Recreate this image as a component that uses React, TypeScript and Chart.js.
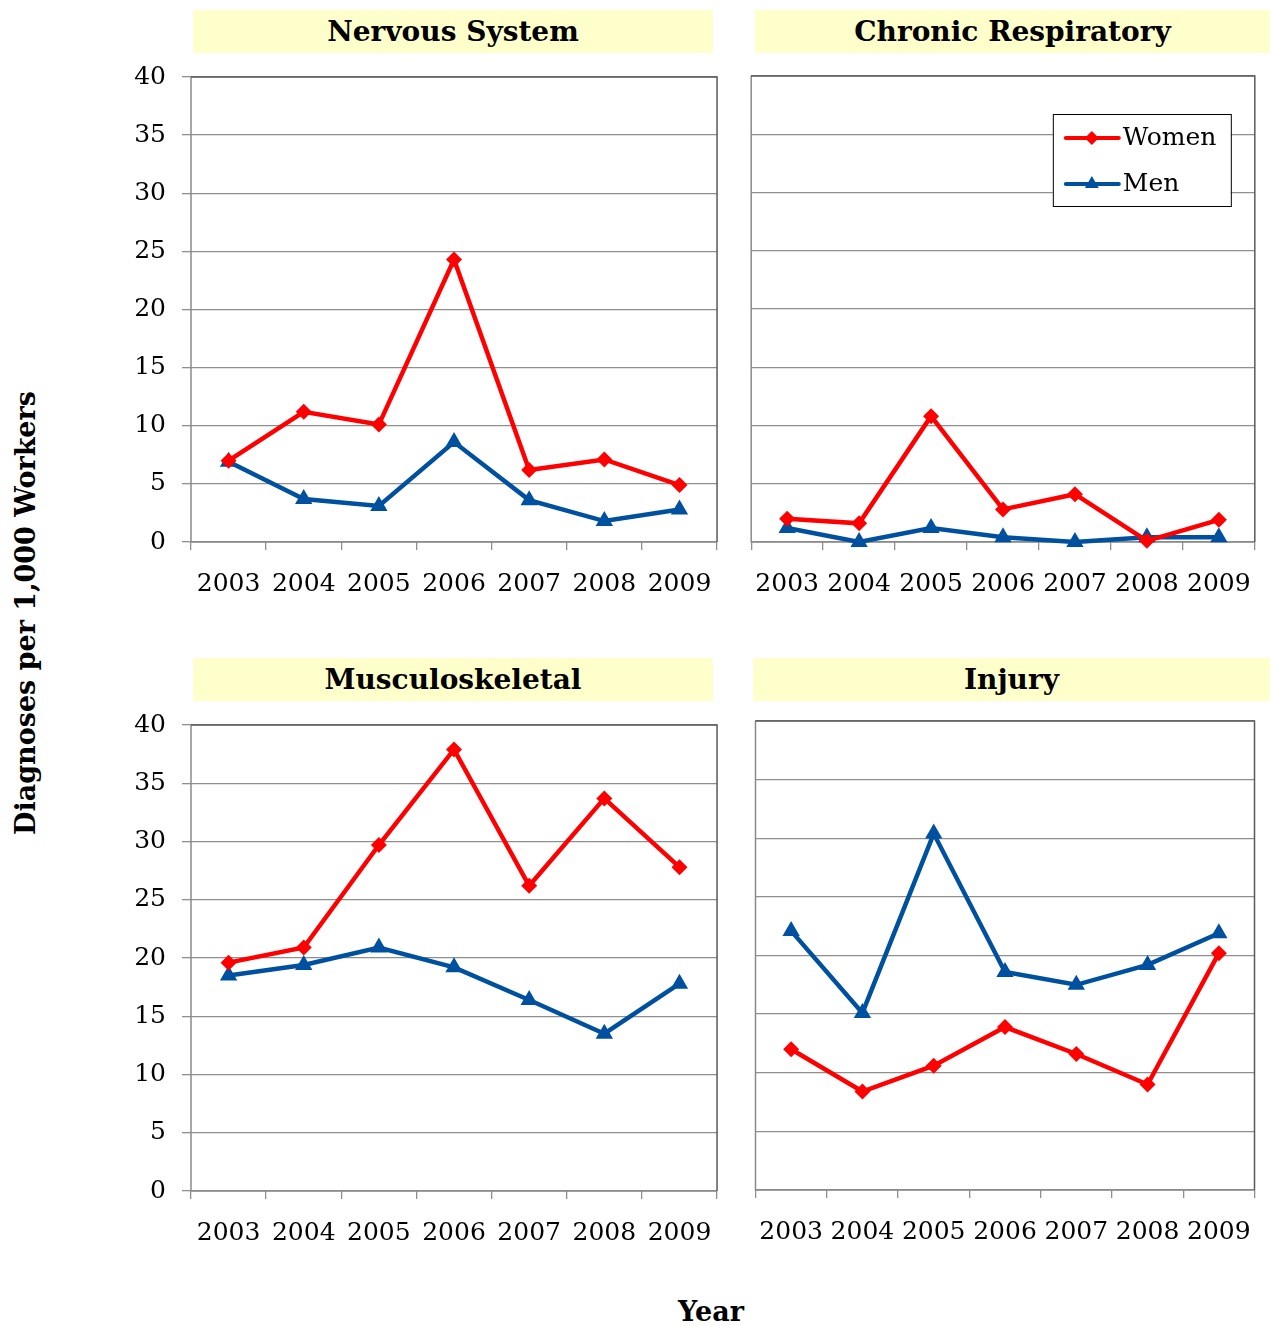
import React, { useEffect, useRef } from 'react';
import { Chart, registerables } from 'chart.js';

Chart.register(...registerables);

// ---------- DATA ----------
const years = ['2003', '2004', '2005', '2006', '2007', '2008', '2009'];
const seriesNames = ['Women', 'Men'];
const panelTitles = ['Nervous System', 'Chronic Respiratory', 'Musculoskeletal', 'Injury'];

const nervousWomen = [7.0, 11.2, 10.1, 24.3, 6.2, 7.1, 4.9];
const nervousMen = [6.9, 3.7, 3.1, 8.6, 3.6, 1.8, 2.8];
const respWomen = [2.0, 1.6, 10.8, 2.8, 4.1, 0.1, 1.9];
const respMen = [1.2, 0.0, 1.2, 0.4, 0.0, 0.4, 0.4];
const muscWomen = [19.6, 20.9, 29.7, 37.9, 26.2, 33.7, 27.8];
const muscMen = [18.5, 19.4, 20.9, 19.2, 16.4, 13.5, 17.8];
const injuryWomen = [12.0, 8.4, 10.6, 13.9, 11.6, 9.0, 20.2];
const injuryMen = [22.1, 15.1, 30.4, 18.6, 17.5, 19.2, 21.9];

const yMin = 0;
const yMax = 40;
const yStep = 5;

const yAxisTitle = 'Diagnoses per 1,000 Workers';
const xAxisTitle = 'Year';

// ---------- STYLE ----------
const FONT = "'DejaVu Serif', 'Liberation Serif', serif";
const RED = '#FF0000';
const BLUE = '#0050A0';
const GRID = '#8f8f8f';
const BORDER_DARK = '#5a5a5a';
const BORDER_LIGHT = '#8a8a8a';
const TITLE_BG = '#FFFFCC';

type Rect = { l: number; t: number; r: number; b: number };
type PanelCfg = {
  title: string;
  women: number[];
  men: number[];
  area: Rect;
  titleBox: Rect;
  yLabels: boolean;
  legend: boolean;
};

const panels: PanelCfg[] = [
  { title: panelTitles[0], women: nervousWomen, men: nervousMen, area: { l: 191, t: 77, r: 717, b: 542 }, titleBox: { l: 193, t: 10, r: 713, b: 53 }, yLabels: true, legend: false },
  { title: panelTitles[1], women: respWomen, men: respMen, area: { l: 751, t: 76, r: 1255, b: 542 }, titleBox: { l: 755, t: 10, r: 1270, b: 53 }, yLabels: false, legend: true },
  { title: panelTitles[2], women: muscWomen, men: muscMen, area: { l: 191, t: 725, r: 717, b: 1191 }, titleBox: { l: 193, t: 658, r: 713, b: 701 }, yLabels: true, legend: false },
  { title: panelTitles[3], women: injuryWomen, men: injuryMen, area: { l: 755, t: 721, r: 1254, b: 1190 }, titleBox: { l: 753, t: 658, r: 1270, b: 701 }, yLabels: false, legend: false },
];

const PAD_TOP = 20;
const PAD_RIGHT = 10;
const X_AXIS_H = 72;
const TICK_FONT = 25;

function drawDiamond(ctx: CanvasRenderingContext2D, x: number, y: number, r: number) {
  ctx.beginPath();
  ctx.moveTo(x, y - r);
  ctx.lineTo(x + r, y);
  ctx.lineTo(x, y + r);
  ctx.lineTo(x - r, y);
  ctx.closePath();
  ctx.fill();
}
function drawTriangle(ctx: CanvasRenderingContext2D, x: number, y: number, r: number) {
  ctx.beginPath();
  ctx.moveTo(x, y - r);
  ctx.lineTo(x + r * 0.866, y + r * 0.5);
  ctx.lineTo(x - r * 0.866, y + r * 0.5);
  ctx.closePath();
  ctx.fill();
}

const frameBorderPlugin = {
  id: 'frameBorder',
  beforeDatasetsDraw(chart: any) {
    const { ctx, chartArea: a } = chart;
    ctx.save();
    ctx.lineWidth = 1.5;
    ctx.strokeStyle = BORDER_LIGHT;
    ctx.beginPath();
    ctx.moveTo(a.left, a.top);
    ctx.lineTo(a.left, a.bottom);
    ctx.lineTo(a.right, a.bottom);
    ctx.stroke();
    ctx.strokeStyle = BORDER_DARK;
    ctx.beginPath();
    ctx.moveTo(a.left, a.top);
    ctx.lineTo(a.right, a.top);
    ctx.lineTo(a.right, a.bottom);
    ctx.stroke();
    ctx.restore();
  },
};

const boxLegendPlugin = {
  id: 'boxLegend',
  afterDraw(chart: any, _args: any, opts: any) {
    if (!opts || !opts.show) return;
    const { ctx, chartArea: a } = chart;
    const w = 178;
    const h = 92;
    const x = a.right - 202;
    const y = a.top + 38;
    ctx.save();
    ctx.fillStyle = '#ffffff';
    ctx.fillRect(x, y, w, h);
    ctx.strokeStyle = '#000000';
    ctx.lineWidth = 1;
    ctx.strokeRect(x + 0.5, y + 0.5, w, h);
    const rows = chart.data.datasets.map((ds: any, i: number) => ({
      label: ds.label,
      color: ds.borderColor,
      style: ds.pointStyle,
      cy: y + 24 + i * 46,
    }));
    rows.forEach((row: any) => {
      ctx.strokeStyle = row.color;
      ctx.lineWidth = 4;
      ctx.lineCap = 'round';
      ctx.beginPath();
      ctx.moveTo(x + 13, row.cy);
      ctx.lineTo(x + 66, row.cy);
      ctx.stroke();
      ctx.fillStyle = row.color;
      if (row.style === 'triangle') drawTriangle(ctx, x + 39, row.cy, 8);
      else drawDiamond(ctx, x + 39, row.cy, 7);
      ctx.fillStyle = '#000000';
      ctx.font = `25px ${FONT}`;
      ctx.textBaseline = 'middle';
      ctx.textAlign = 'left';
      ctx.fillText(row.label, x + 70, row.cy);
    });
    ctx.restore();
  },
};

function makeConfig(cfg: PanelCfg, yw: number): any {
  return {
    type: 'line',
    data: {
      labels: years,
      datasets: [
        {
          label: seriesNames[0],
          data: cfg.women,
          borderColor: RED,
          backgroundColor: RED,
          borderWidth: 4.5,
          pointStyle: 'rectRot',
          pointRadius: 8,
          pointBorderWidth: 0,
          pointBackgroundColor: RED,
          tension: 0,
          clip: false,
        },
        {
          label: seriesNames[1],
          data: cfg.men,
          borderColor: BLUE,
          backgroundColor: BLUE,
          borderWidth: 4.5,
          pointStyle: 'triangle',
          pointRadius: 10,
          pointBorderWidth: 0,
          pointBackgroundColor: BLUE,
          tension: 0,
          clip: false,
        },
      ],
    },
    options: {
      responsive: false,
      maintainAspectRatio: false,
      animation: false,
      devicePixelRatio: 1,
      layout: { padding: { top: PAD_TOP, right: PAD_RIGHT, left: 0, bottom: 0 } },
      plugins: {
        legend: { display: false },
        tooltip: { enabled: false },
        title: { display: false },
        boxLegend: { show: cfg.legend },
      },
      scales: {
        x: {
          type: 'category',
          offset: true,
          border: { display: false },
          grid: {
            offset: true,
            drawOnChartArea: false,
            drawTicks: true,
            tickLength: 8,
            color: GRID,
            lineWidth: 1.3,
          },
          ticks: {
            color: '#000000',
            font: { family: FONT, size: TICK_FONT },
            padding: 19,
            maxRotation: 0,
            autoSkip: false,
          },
          afterFit: (s: any) => {
            s.height = X_AXIS_H;
          },
        },
        y: {
          min: yMin,
          max: yMax,
          border: { display: false },
          grid: {
            color: GRID,
            lineWidth: 1.3,
            drawTicks: cfg.yLabels,
            tickLength: 9,
          },
          ticks: {
            display: cfg.yLabels,
            stepSize: yStep,
            color: '#000000',
            font: { family: FONT, size: TICK_FONT },
            padding: 16,
          },
          afterFit: (s: any) => {
            s.width = yw;
          },
        },
      },
    },
    plugins: [frameBorderPlugin, boxLegendPlugin],
  };
}

function Panel({ cfg }: { cfg: PanelCfg }) {
  const ref = useRef<HTMLCanvasElement | null>(null);
  const yw = cfg.yLabels ? 100 : 10;
  const areaW = cfg.area.r - cfg.area.l;
  const areaH = cfg.area.b - cfg.area.t;

  useEffect(() => {
    const canvas = ref.current;
    if (!canvas) return;
    let w = areaW + yw + PAD_RIGHT;
    let h = areaH + PAD_TOP + X_AXIS_H;
    let chart: Chart | null = null;
    // Iterate until the chart area has exactly the intended size
    for (let i = 0; i < 6; i++) {
      canvas.width = w;
      canvas.height = h;
      canvas.style.width = `${w}px`;
      canvas.style.height = `${h}px`;
      chart = new Chart(canvas, makeConfig(cfg, yw));
      const a = chart.chartArea;
      const dw = areaW - (a.right - a.left);
      const dh = areaH - (a.bottom - a.top);
      if (Math.abs(dw) < 0.5 && Math.abs(dh) < 0.5) break;
      if (i === 5) break;
      chart.destroy();
      chart = null;
      w = Math.round(w + dw);
      h = Math.round(h + dh);
    }
    if (chart) {
      const a = chart.chartArea;
      canvas.style.left = `${cfg.area.l - a.left}px`;
      canvas.style.top = `${cfg.area.t - a.top}px`;
    }
    return () => {
      if (chart) chart.destroy();
    };
  }, []);

  const tb = cfg.titleBox;
  return (
    <>
      <div
        style={{
          position: 'absolute',
          left: tb.l,
          top: tb.t,
          width: tb.r - tb.l,
          height: tb.b - tb.t,
          background: TITLE_BG,
          display: 'flex',
          alignItems: 'center',
          justifyContent: 'center',
          fontFamily: FONT,
          fontWeight: 'bold',
          fontSize: 28,
          color: '#000',
        }}
      >
        {cfg.title}
      </div>
      <canvas ref={ref} style={{ position: 'absolute', left: 0, top: 0 }} />
    </>
  );
}

export default function App() {
  return (
    <div style={{ position: 'absolute', left: 0, top: 0, width: 1271, height: 1326, background: '#fff', overflow: 'hidden' }}>
      {panels.map((p) => (
        <Panel key={p.title} cfg={p} />
      ))}
      <div
        style={{
          position: 'absolute',
          left: 25,
          top: 613,
          transform: 'translate(-50%, -50%) rotate(-90deg)',
          whiteSpace: 'nowrap',
          fontFamily: FONT,
          fontWeight: 'bold',
          fontSize: 27,
          color: '#000',
        }}
      >
        {yAxisTitle}
      </div>
      <div
        style={{
          position: 'absolute',
          left: 711,
          top: 1311,
          transform: 'translate(-50%, -50%)',
          whiteSpace: 'nowrap',
          fontFamily: FONT,
          fontWeight: 'bold',
          fontSize: 27,
          color: '#000',
        }}
      >
        {xAxisTitle}
      </div>
    </div>
  );
}
